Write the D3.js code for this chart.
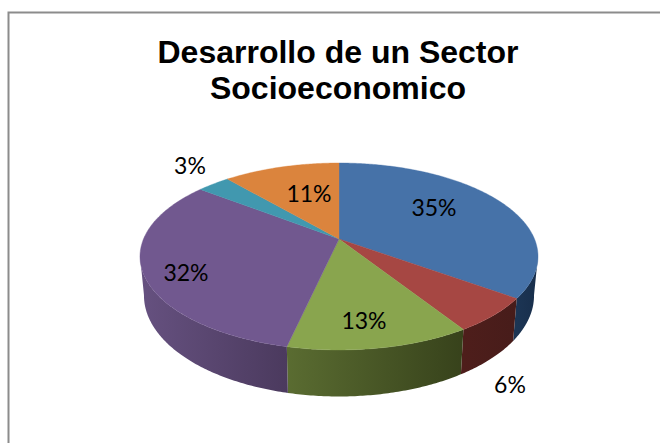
<!DOCTYPE html>
<html><head><meta charset="utf-8">
<script src="https://cdn.jsdelivr.net/npm/d3@7"></script>
<style>html,body{margin:0;padding:0;background:#fff}svg{display:block}</style>
</head><body><svg id="c" width="660" height="443"></svg>
<script>
const titleLines = ["Desarrollo de un Sector", "Socioeconomico"];
const categories = ["A", "B", "C", "D", "E", "F"];
const values = [35, 6, 12.5, 32, 3.2, 11.3];
const labels = ["35%", "6%", "13%", "32%", "3%", "11%"];
const topColors = ["#4672a8", "#a64743", "#89a54e", "#71588f", "#4198af", "#db843d"];
const wallLight = ["#1c3554", "#4e1e1b", "#5a6c31", "#665180", "#2a6a7a", "#8a5020"];
const wallDark = ["#182e4b", "#471c1a", "#37421b", "#4b3a5e", "#2a6a7a", "#8a5020"];
const labelXY = [[434, 207], [510, 384], [364, 320], [186, 272], [190, 165], [309, 193]];

const W = 660, H = 443;
const svg = d3.select("#c");
const apex = {x: 339, y: 239}, k = 0.187, rX = 195.5, rY = 90.2;
const depth = 39, depthGrow = 0.08, shrink = 0.98, midY = 256;

function rim(t) {
  const u = Math.sin(t), v = -Math.cos(t), w = 1 - k * v;
  return [apex.x + u * rX / w, apex.y + v * rY / w];
}
function floor(t) {
  const [x, y] = rim(t);
  return [apex.x + (x - apex.x) * shrink, y + depth + (y - midY) * depthGrow];
}
const arcs = d3.pie().sort(null).value(d => d)(values);
const samples = (a, b) => { const n = Math.max(2, Math.ceil((b - a) * 90)); return d3.range(n + 1).map(i => a + (b - a) * i / n); };
const line = d3.line();

svg.append("rect").attr("width", W).attr("height", H).attr("fill", "#fff");
svg.append("path").attr("d", `M8.5 ${H}V12.5H${W}`).attr("fill", "none").attr("stroke", "#8c8c8c").attr("stroke-width", 2);

const defs = svg.append("defs");
// the wall is visible between the two silhouette angles of the projected rim
const vis0 = 100.5 * Math.PI / 180, vis1 = 259.5 * Math.PI / 180;
arcs.forEach((d, i) => {
  const a = Math.max(d.startAngle, vis0), b = Math.min(d.endAngle, vis1);
  if (b <= a) return;
  const xs = [rim(a)[0], rim(b)[0]];
  const g = defs.append("linearGradient").attr("id", "w" + i).attr("gradientUnits", "userSpaceOnUse")
    .attr("x1", d3.min(xs)).attr("x2", d3.max(xs)).attr("y1", 0).attr("y2", 0);
  g.append("stop").attr("offset", 0).attr("stop-color", wallLight[i]);
  g.append("stop").attr("offset", 1).attr("stop-color", wallDark[i]);
  const ts = samples(a, b);
  const pts = ts.map(rim).concat(ts.slice().reverse().map(floor));
  svg.append("path").attr("d", line(pts) + "Z").attr("fill", `url(#w${i})`);
});
arcs.forEach((d, i) => {
  const pts = [[apex.x, apex.y]].concat(samples(d.startAngle, d.endAngle).map(rim));
  svg.append("path").attr("d", line(pts) + "Z").attr("fill", topColors[i]).attr("stroke", topColors[i]).attr("stroke-width", 0.4);
});
svg.selectAll("text.l").data(labels).join("text").attr("class", "l")
  .attr("x", (d, i) => labelXY[i][0]).attr("y", (d, i) => labelXY[i][1])
  .attr("text-anchor", "middle").attr("dominant-baseline", "central")
  .attr("font-family", "Lato, sans-serif").attr("font-size", 23).attr("fill", "#000").text(d => d);
svg.selectAll("text.t").data(titleLines).join("text").attr("class", "t")
  .attr("x", 338).attr("y", (d, i) => 63 + i * 36)
  .attr("text-anchor", "middle").attr("font-family", "Liberation Sans, Arial, sans-serif")
  .attr("font-weight", "bold").attr("font-size", 32).attr("fill", "#000").text(d => d);
</script></body></html>
